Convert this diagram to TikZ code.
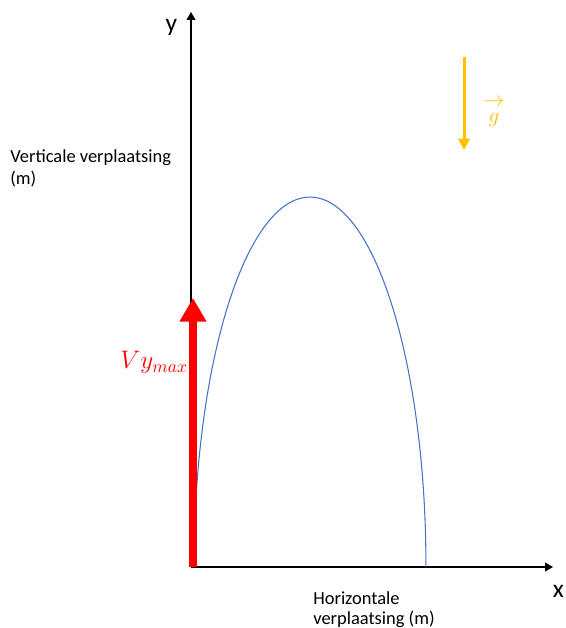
\documentclass[tikz,border=0pt]{standalone}
\usepackage{fontspec}
\setmainfont{Carlito}
\usepackage{amsmath}
\usepackage{xcolor}
\definecolor{gravgold}{HTML}{FFC000}
\definecolor{trajblue}{HTML}{4472C4}
\usepackage{tikz}
\usetikzlibrary{arrows.meta, positioning}

\begin{document}
\begin{tikzpicture}[
    x=0.02cm, y=0.02cm,
    axis/.style={-{Triangle[length=4.5pt, width=5pt]}, line width=0.8pt, black},
    vel/.style={-{Triangle[length=13.5pt, width=14.5pt]}, line width=4.5pt, red},
    grav/.style={-{Triangle[length=6.5pt, width=6.5pt]}, line width=1.7pt, color=gravgold},
    traj/.style={line width=0.6pt, color=trajblue},
    qty/.style={font=\fontsize{10.5}{#1}\selectfont, align=left, inner sep=0pt},
    axlbl/.style={font=\fontsize{14.5}{17}\selectfont, inner sep=0pt},
]
    \useasboundingbox (0,0) rectangle (565,628);

    % axes
    \coordinate (origin) at (191,61);
    \coordinate (ytip) at (191,616);
    \coordinate (xtip) at (553,61);
    \draw[axis] (origin) -- (ytip);
    \draw[axis] (origin) -- (xtip);
    \node[axlbl, anchor=base] (ylab) at (171.5,596) {y};
    \node[axlbl, anchor=base] (xlab) at (558.5,31) {x};

    % axis quantities
    \node[qty=13, anchor=base west] (vertlab) at (10,443) {Verticale verplaatsing\\(m)};
    \node[qty=11.3, anchor=base west] (horlab) at (313,4) {Horizontale\\verplaatsing (m)};

    % trajectory
    \coordinate (launch) at (194,61);
    \draw[traj] (launch) arc[start angle=180, end angle=0, x radius=2.32cm, y radius=7.4cm];

    % initial vertical velocity
    \coordinate (vbase) at (193,61);
    \coordinate (vtip) at (193,330);
    \draw[vel] (vbase) -- (vtip);
    \node[font=\fontsize{14}{17}\selectfont, text=red, anchor=base west, inner sep=0pt] (vylab) at (120,259) {$Vy_{max}$};

    % gravity
    \coordinate (gtop) at (464,571);
    \coordinate (gbot) at (464,478);
    \draw[grav] (gtop) -- (gbot);
    \node[font=\fontsize{11.5}{9}\selectfont, text=gravgold, align=center, inner sep=0pt] (glab) at (494,515) {$\rightarrow$\\$g$};
\end{tikzpicture}
\end{document}
